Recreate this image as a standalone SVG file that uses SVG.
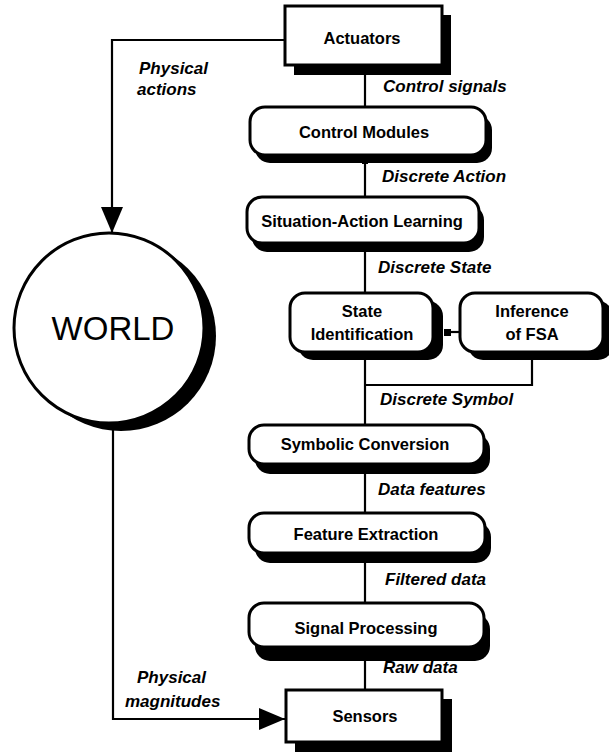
<svg xmlns="http://www.w3.org/2000/svg" width="609" height="752" viewBox="0 0 609 752">
<style>
.box{fill:#fff;stroke:#000;stroke-width:3}
.sh{fill:#000}
.ln{fill:none;stroke:#000;stroke-width:2.2}
.nt{font-family:"Liberation Sans",Arial,sans-serif;font-weight:bold;font-size:16.5px;text-anchor:middle;fill:#000}
.lb{font-family:"Liberation Sans",Arial,sans-serif;font-weight:bold;font-style:italic;font-size:17px;fill:#000}
.sq{fill:#000}
</style>
<defs>
<marker id="ah" viewBox="0 0 26 22" refX="26" refY="11" markerWidth="26" markerHeight="22" markerUnits="userSpaceOnUse" orient="auto">
<path d="M0,0 L26,11 L0,22 Z" fill="#000"/>
</marker>
</defs>
<rect width="609" height="752" fill="#fff"/>

<g id="connectors">
<path class="ln" d="M285,40 H112 V233" marker-end="url(#ah)"/>
<path class="ln" d="M113,422 V719 H285" marker-end="url(#ah)"/>
<line class="ln" x1="365" y1="66" x2="365" y2="107"/>
<line class="ln" x1="365" y1="156" x2="365" y2="197"/>
<line class="ln" x1="365" y1="244" x2="365" y2="293"/>
<line class="ln" x1="365" y1="353" x2="365" y2="425"/>
<path class="ln" d="M532,353 V385 H365"/>
<line class="ln" x1="460" y1="332" x2="448" y2="332"/>
<line class="ln" x1="365" y1="464" x2="365" y2="513"/>
<line class="ln" x1="365" y1="554" x2="365" y2="603"/>
<line class="ln" x1="365" y1="648" x2="365" y2="690"/>
<rect class="sq" x="362" y="63" width="6" height="6"/>
<rect class="sq" x="362" y="158" width="6" height="6"/>
<rect class="sq" x="362" y="246" width="6" height="6"/>
<rect class="sq" x="362" y="354" width="6" height="6"/>
<rect class="sq" x="529" y="354" width="6" height="6"/>
<rect class="sq" x="444" y="329" width="7" height="7"/>
<rect class="sq" x="362" y="466" width="6" height="6"/>
<rect class="sq" x="362" y="556" width="6" height="6"/>
<rect class="sq" x="362" y="650" width="6" height="6"/>
</g>

<g id="world">
<circle class="sh" cx="121" cy="336" r="95"/>
<circle class="box" cx="109" cy="328" r="95"/>
<text x="113" y="340" font-family="'Liberation Sans',Arial,sans-serif" font-size="33" text-anchor="middle">WORLD</text>
</g>

<g id="actuators">
<rect class="sh" x="294" y="15" width="157" height="60"/>
<rect class="box" x="285" y="6" width="157" height="59"/>
<text class="nt" x="362" y="44">Actuators</text>
</g>

<g id="control-modules">
<rect class="sh" x="255" y="115" width="237" height="48" rx="15"/>
<rect class="box" x="250" y="107" width="236" height="48" rx="15"/>
<text class="nt" x="364" y="138">Control Modules</text>
</g>

<g id="situation-action-learning">
<rect class="sh" x="252" y="205" width="232" height="47" rx="15"/>
<rect class="box" x="247" y="197" width="232" height="46" rx="15"/>
<text class="nt" x="362" y="227">Situation-Action Learning</text>
</g>

<g id="state-identification">
<rect class="sh" x="298" y="301" width="145" height="59" rx="15"/>
<rect class="box" x="290" y="293" width="143" height="59" rx="15"/>
<text class="nt" x="362" y="317">State</text>
<text class="nt" x="362" y="340">Identification</text>
</g>

<g id="inference-fsa">
<rect class="sh" x="468" y="301" width="145" height="59" rx="15"/>
<rect class="box" x="460" y="293" width="143" height="59" rx="15"/>
<text class="nt" x="532" y="317">Inference</text>
<text class="nt" x="532" y="340">of FSA</text>
</g>

<g id="symbolic-conversion">
<rect class="sh" x="255" y="434" width="235" height="40" rx="15"/>
<rect class="box" x="249" y="425" width="235" height="39" rx="15"/>
<text class="nt" x="365" y="450">Symbolic Conversion</text>
</g>

<g id="feature-extraction">
<rect class="sh" x="255" y="522" width="236" height="41" rx="15"/>
<rect class="box" x="249" y="513" width="236" height="40" rx="15"/>
<text class="nt" x="366" y="540">Feature Extraction</text>
</g>

<g id="signal-processing">
<rect class="sh" x="255" y="614" width="235" height="47" rx="15"/>
<rect class="box" x="249" y="603" width="235" height="44" rx="15"/>
<text class="nt" x="366" y="634">Signal Processing</text>
</g>

<g id="sensors">
<rect class="sh" x="295" y="699" width="157" height="53"/>
<rect class="box" x="286" y="690" width="156" height="52"/>
<text class="nt" x="365" y="722">Sensors</text>
</g>

<g id="labels">
<text class="lb" x="139" y="74">Physical</text>
<text class="lb" x="137" y="95">actions</text>
<text class="lb" x="383" y="92">Control signals</text>
<text class="lb" x="382" y="182">Discrete Action</text>
<text class="lb" x="378" y="273">Discrete State</text>
<text class="lb" x="380" y="405">Discrete Symbol</text>
<text class="lb" x="378" y="495">Data features</text>
<text class="lb" x="385" y="585">Filtered data</text>
<text class="lb" x="383" y="673">Raw data</text>
<text class="lb" x="137" y="683">Physical</text>
<text class="lb" x="125" y="707">magnitudes</text>
</g>
</svg>
